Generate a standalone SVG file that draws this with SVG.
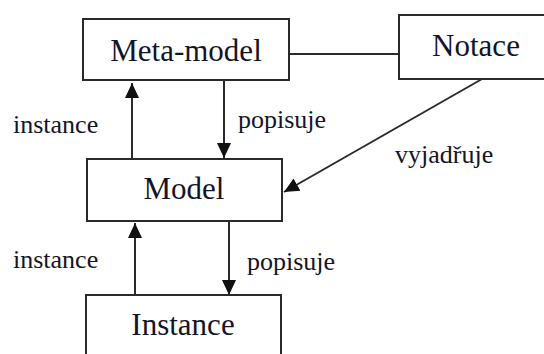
<svg xmlns="http://www.w3.org/2000/svg" width="544" height="354" viewBox="0 0 544 354">
<defs>
<style>
.box{fill:#fff;stroke:#2a2a2a;stroke-width:2}
.t{font-family:"Liberation Serif","Times New Roman",serif;font-size:31px;fill:#141428}
.l{font-family:"Liberation Serif","Times New Roman",serif;font-size:26px;fill:#141428}
.c{fill:none;stroke:#2a2a2a;stroke-width:2}
</style>
<marker id="ah" markerUnits="userSpaceOnUse" markerWidth="16" markerHeight="16" viewBox="0 0 16 16" refX="15" refY="8" orient="auto">
<path d="M0,1 L15,8 L0,15 Z" fill="#111"/>
</marker>
</defs>
<g id="connectors">
<line class="c" x1="289" y1="54" x2="399" y2="54"/>
<line class="c" x1="132" y1="159" x2="132" y2="83" marker-end="url(#ah)"/>
<line class="c" x1="224" y1="80" x2="224" y2="158" marker-end="url(#ah)"/>
<line class="c" x1="482" y1="79" x2="284" y2="192" marker-end="url(#ah)"/>
<line class="c" x1="135" y1="295" x2="135" y2="223" marker-end="url(#ah)"/>
<line class="c" x1="229" y1="221" x2="229" y2="295" marker-end="url(#ah)"/>
<text class="l" x="13" y="133">instance</text>
<text class="l" x="238" y="128">popisuje</text>
<text class="l" x="395" y="163">vyjadřuje</text>
<text class="l" x="13" y="268">instance</text>
<text class="l" x="247" y="270">popisuje</text>
</g>
<g id="metamodel">
<rect class="box" x="83" y="19" width="206" height="61"/>
<text class="t" x="186" y="61" text-anchor="middle">Meta-model</text>
</g>
<g id="notace">
<rect class="box" x="399" y="15" width="150" height="64"/>
<text class="t" x="476" y="56" text-anchor="middle">Notace</text>
</g>
<g id="model">
<rect class="box" x="87" y="159" width="195" height="62"/>
<text class="t" x="184" y="199" text-anchor="middle">Model</text>
</g>
<g id="instance">
<rect class="box" x="86" y="295" width="195" height="70"/>
<text class="t" x="183" y="335" text-anchor="middle">Instance</text>
</g>
</svg>
